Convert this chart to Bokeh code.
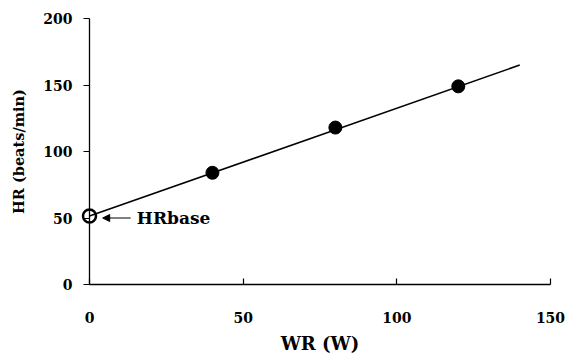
from bokeh.plotting import figure
from bokeh.models import Range1d, Arrow, NormalHead, Label, FixedTicker
from bokeh.embed import file_html
from bokeh.resources import INLINE

# data
wr = [40, 80, 120]
hr = [84, 118, 149]
hr_base_x = [0]
hr_base_y = [51.5]
fit_x = [0, 140]
fit_y = [51.5, 165]
x_ticks = [0, 50, 100, 150]
y_ticks = [0, 50, 100, 150, 200]

FONT = "DejaVu Serif"

p = figure(width=565, height=356, output_backend="svg", toolbar_location=None,
           x_range=Range1d(0, 150), y_range=Range1d(0, 200),
           min_border_left=89, min_border_right=15, min_border_top=18, min_border_bottom=72)
p.outline_line_color = None
p.xgrid.visible = False
p.ygrid.visible = False
p.background_fill_color = "white"
p.border_fill_color = "white"

p.line(fit_x, fit_y, line_color="black", line_width=1.6)
p.scatter(wr, hr, size=13, fill_color="black", line_color="black")
r = p.scatter(hr_base_x, hr_base_y, size=13, fill_color=None, line_color="black", line_width=2.5)
r.level = "overlay"

p.add_layout(Arrow(end=NormalHead(size=7, fill_color="black", line_color="black"),
                   x_start=13.4, y_start=50, x_end=4.3, y_end=50,
                   line_color="black", line_width=1.2))
p.add_layout(Label(x=15.4, y=50, text="HRbase", text_font=FONT, text_font_style="bold",
                   text_font_size="17px", text_baseline="middle", text_color="black"))

xa = p.xaxis[0]
xa.ticker = FixedTicker(ticks=x_ticks)
xa.major_tick_in = 6
xa.major_tick_out = 0
xa.minor_tick_line_color = None
xa.major_label_standoff = 27
xa.axis_label = "WR (W)"
xa.axis_label_standoff = 7

ya = p.yaxis[0]
ya.ticker = FixedTicker(ticks=y_ticks)
ya.major_tick_in = 0
ya.major_tick_out = 6
ya.minor_tick_line_color = None
ya.major_label_standoff = 11
ya.axis_label = "HR (beats/min)"
ya.axis_label_standoff = 13

for ax in (xa, ya):
    ax.axis_line_color = "black"
    ax.axis_line_width = 1.3
    ax.major_tick_line_color = "black"
    ax.major_tick_line_width = 1.2
    ax.major_label_text_font = FONT
    ax.major_label_text_font_style = "bold"
    ax.major_label_text_font_size = "14px"
    ax.major_label_text_color = "black"
    ax.axis_label_text_font = FONT
    ax.axis_label_text_font_style = "bold"
    ax.axis_label_text_color = "black"
xa.axis_label_text_font_size = "18px"
ya.axis_label_text_font_size = "14.5px"

open("out.html", "w").write(file_html(p, INLINE))
